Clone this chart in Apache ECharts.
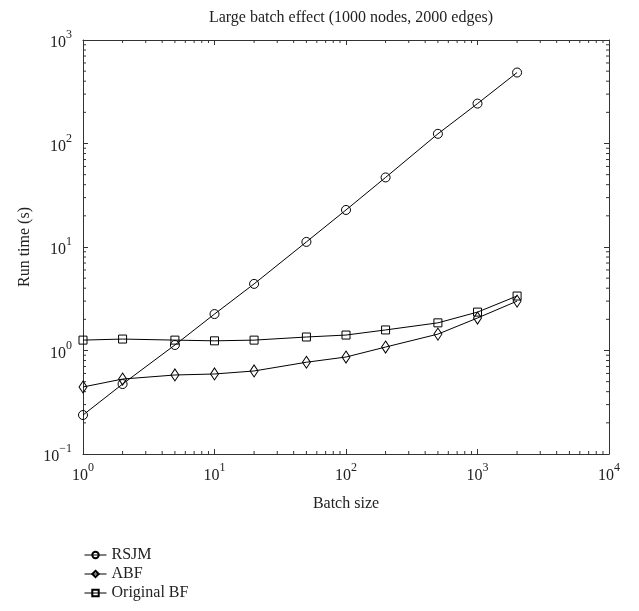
<!DOCTYPE html>
<html>
<head>
<meta charset="utf-8">
<script src="https://cdn.jsdelivr.net/npm/echarts@6/dist/echarts.min.js"></script>
<style>
  html, body { margin: 0; padding: 0; background: #fff; }
  #chart { width: 639px; height: 611px; }
</style>
</head>
<body>
<div id="chart"></div>
<script>
var batchSize = [1, 2, 5, 10, 20, 50, 100, 200, 500, 1000, 2000];
var rsjm = [0.238, 0.474, 1.13, 2.25, 4.4, 11.2, 22.8, 47, 124, 243, 485];
var abf = [0.444, 0.53, 0.58, 0.593, 0.634, 0.77, 0.865, 1.08, 1.44, 2.06, 3.0];
var originalBf = [1.26, 1.29, 1.26, 1.24, 1.26, 1.35, 1.41, 1.58, 1.85, 2.35, 3.36];
var seriesNames = ['RSJM', 'ABF', 'Original BF'];

// minor tick positions (2..9 in each decade)
var xDecades = [1, 10, 100, 1000];
var yDecades = [0.1, 1, 10, 100];
var xMinor = [], yMinor = [];
xDecades.forEach(function (d) { for (var k = 2; k <= 9; k++) xMinor.push([d * k, 1]); });
yDecades.forEach(function (d) { for (var k = 2; k <= 9; k++) yMinor.push([1, +(d * k).toPrecision(3)]); });

var FONT = 'Liberation Serif';

function pow10Label(v) {
  var e = Math.round(Math.log(v) / Math.LN10);
  return '{b|10}{s|' + (e < 0 ? '\u2212' + (-e) : e) + '}';
}
var labelRich = {
  b: { fontFamily: FONT, fontSize: 16, color: '#222', padding: [6, 0, 0, 0] },
  s: { fontFamily: FONT, fontSize: 12, color: '#222', verticalAlign: 'top', padding: [0, 0, 6, 0] }
};

function pairs(ys) {
  return batchSize.map(function (x, i) { return [x, ys[i]]; });
}

function lineSeries(name, ys, symbol, size) {
  return {
    name: name,
    type: 'line',
    data: pairs(ys),
    symbol: symbol,
    symbolSize: size,
    showAllSymbol: true,
    lineStyle: { color: '#000', width: 1 },
    itemStyle: { color: 'rgba(255,255,255,0)', borderColor: '#000', borderWidth: 1 },
    emphasis: { disabled: true },
    z: 3
  };
}

var tickStyle = { stroke: '#333', lineWidth: 1 };

var option = {
  animation: false,
  backgroundColor: '#fff',
  title: {
    text: 'Large batch effect (1000 nodes, 2000 edges)',
    left: 346,
    textAlign: 'center',
    top: 5,
    textStyle: { fontFamily: FONT, fontSize: 16, fontWeight: 'normal', color: '#222' }
  },
  legend: {
    data: seriesNames,
    orient: 'vertical',
    left: 79,
    top: 542,
    itemWidth: 22,
    itemHeight: 8,
    itemGap: 3,
    lineStyle: { width: 1 },
    textStyle: { fontFamily: FONT, fontSize: 16, color: '#222', lineHeight: 16 }
  },
  grid: { left: 83, right: 30, top: 40, bottom: 157 },
  xAxis: [{
    type: 'log',
    logBase: 10,
    min: 1,
    max: 10000,
    name: 'Batch size',
    nameLocation: 'middle',
    nameGap: 42,
    nameTextStyle: { fontFamily: FONT, fontSize: 16, color: '#222' },
    axisLine: { lineStyle: { color: '#333', width: 1 } },
    axisTick: { inside: true, length: 5, lineStyle: { color: '#333' } },
    axisLabel: { formatter: pow10Label, rich: labelRich, margin: 8 },
    splitLine: { show: false }
  }, {
    type: 'log',
    logBase: 10,
    min: 1,
    max: 10000,
    position: 'top',
    axisLine: { lineStyle: { color: '#333', width: 1 } },
    axisTick: { inside: true, length: 5, lineStyle: { color: '#333' } },
    axisLabel: { show: false },
    splitLine: { show: false }
  }],
  yAxis: [{
    type: 'log',
    logBase: 10,
    min: 0.1,
    max: 1000,
    name: 'Run time (s)',
    nameLocation: 'middle',
    nameGap: 50,
    nameTextStyle: { fontFamily: FONT, fontSize: 16, color: '#222' },
    axisLine: { lineStyle: { color: '#333', width: 1 } },
    axisTick: { inside: true, length: 5, lineStyle: { color: '#333' } },
    axisLabel: { formatter: pow10Label, rich: labelRich, margin: 11 },
    splitLine: { show: false }
  }, {
    type: 'log',
    logBase: 10,
    min: 0.1,
    max: 1000,
    position: 'right',
    axisLine: { lineStyle: { color: '#333', width: 1 } },
    axisTick: { inside: true, length: 5, lineStyle: { color: '#333' } },
    axisLabel: { show: false },
    splitLine: { show: false }
  }],
  series: [
    lineSeries('RSJM', rsjm, 'circle', 9),
    lineSeries('ABF', abf, 'diamond', [8, 12]),
    lineSeries('Original BF', originalBf, 'rect', 8),
    {
      type: 'custom',
      silent: true,
      data: xMinor,
      renderItem: function (params, api) {
        var p = api.coord([api.value(0), api.value(1)]);
        var cs = params.coordSys;
        var yb = cs.y + cs.height;
        return {
          type: 'group',
          children: [
            { type: 'line', shape: { x1: p[0], y1: yb, x2: p[0], y2: yb - 3 }, style: tickStyle },
            { type: 'line', shape: { x1: p[0], y1: cs.y, x2: p[0], y2: cs.y + 3 }, style: tickStyle }
          ]
        };
      },
      z: 1
    },
    {
      type: 'custom',
      silent: true,
      data: yMinor,
      renderItem: function (params, api) {
        var p = api.coord([api.value(0), api.value(1)]);
        var cs = params.coordSys;
        var xr = cs.x + cs.width;
        return {
          type: 'group',
          children: [
            { type: 'line', shape: { x1: cs.x, y1: p[1], x2: cs.x + 3, y2: p[1] }, style: tickStyle },
            { type: 'line', shape: { x1: xr, y1: p[1], x2: xr - 3, y2: p[1] }, style: tickStyle }
          ]
        };
      },
      z: 1
    }
  ]
};

var chart = echarts.init(document.getElementById('chart'), null, { renderer: 'canvas' });
chart.setOption(option);
</script>
</body>
</html>
